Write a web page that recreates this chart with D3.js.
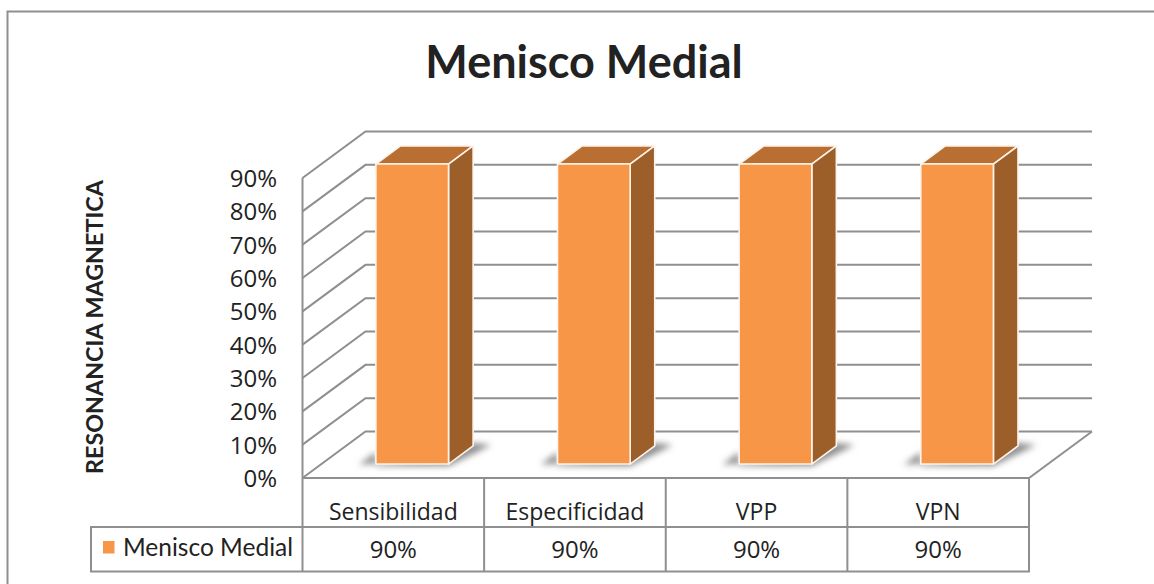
<!DOCTYPE html>
<html>
<head>
<meta charset="utf-8">
<title>Menisco Medial</title>
<script src="https://cdn.jsdelivr.net/npm/d3@7"></script>
<style>
  html, body { margin: 0; padding: 0; background: #fff; }
  svg { display: block; }
  text { fill: #222; }
</style>
</head>
<body>
<svg id="chart" width="1154" height="584"></svg>
<script>
const chartTitle = "Menisco Medial";
const axisTitle = "RESONANCIA MAGNETICA";
const seriesName = "Menisco Medial";
const categories = ["Sensibilidad", "Especificidad", "VPP", "VPN"];
const seriesValues = [0.9, 0.9, 0.9, 0.9];
const tickValues = [0, 0.1, 0.2, 0.3, 0.4, 0.5, 0.6, 0.7, 0.8, 0.9];

const LINE = "#8f8f8f";
const FACE = "#f79646", TOP = "#b96f32", SIDE = "#9c5f2a", EDGE = "#fdf3ea";
const svg = d3.select("#chart");

// Front plane of the 3D plot box and the oblique offset of its back plane
const plot = { left: 302.5, right: 1029, floor: 478, top: 178 };
const depth = { dx: 63, dy: -46.5 };

const x = d3.scaleBand().domain(categories).range([plot.left, plot.right]);
const y = d3.scaleLinear().domain([0, 0.9]).range([plot.floor, plot.top]);

// Oblique projection: z runs from 0 at the front plane to 1 at the back wall
const project = (px, py, z) => [px + depth.dx * z, py + depth.dy * z];
const poly = pts => pts.map(p => p.join(",")).join(" ");

const defs = svg.append("defs");
defs.append("filter").attr("id", "floorShadow")
  .attr("x", "-30%").attr("y", "-60%").attr("width", "160%").attr("height", "220%")
  .append("feGaussianBlur").attr("stdDeviation", 3);

// Outer chart frame, open on the right and at the bottom
svg.append("path")
  .attr("d", d3.line()([[7.5, 584], [7.5, 11.5], [1154, 11.5]]))
  .attr("fill", "none").attr("stroke", LINE).attr("stroke-width", 2);

// Title
svg.append("text").attr("x", 584).attr("y", 78)
  .attr("text-anchor", "middle")
  .style("font", "700 45px Lato, sans-serif")
  .text(chartTitle);

// Axis title
svg.append("text")
  .attr("transform", "translate(103,327) rotate(-90)")
  .attr("text-anchor", "middle")
  .style("font", "700 23.3px Lato, sans-serif")
  .text(axisTitle);

// Back-wall gridlines and the side-wall diagonals that lead into them
const grid = svg.append("g").attr("fill", "none").attr("stroke", LINE).attr("stroke-width", 2);
tickValues.forEach(v => {
  const front = project(plot.left, y(v), 0);
  const back = project(plot.left, y(v), 1);
  const end = project(plot.right, y(v), 1);
  grid.append("path").attr("d", d3.line()([front, back, end]));
});

// Floor edges and the front vertical of the side wall
grid.append("path").attr("d", d3.line()([
  project(plot.left, y(0), 0), project(plot.right, y(0), 0), project(plot.right, y(0), 1)
]));
grid.append("path").attr("d", d3.line()([[plot.left, y(0.9)], [plot.left, y(0)]]));

// Value axis
const yAxis = d3.axisLeft(y).tickValues(tickValues).tickSize(0).tickPadding(0)
  .tickFormat(d3.format(".0%"));
const yAxisG = svg.append("g").attr("transform", "translate(277,0)").call(yAxis);
yAxisG.select(".domain").remove();
yAxisG.selectAll("text").attr("dy", "0.36em")
  .style("font", "24px 'Open Sans', sans-serif");

// Bars: gap width 150% inside each band, set partway into the depth
const barWidth = x.bandwidth() / 2.5;
const zNear = 0.3, zFar = 0.69;
const bars = svg.append("g").selectAll("g")
  .data(categories.map((c, i) => ({ c, v: seriesValues[i] })))
  .join("g");

bars.each(function (d) {
  const g = d3.select(this);
  const x0 = x(d.c) + (x.bandwidth() - barWidth) / 2;
  const x1 = x0 + barWidth;
  const a = project(x0, y(d.v), zNear), b = project(x1, y(d.v), zNear);
  const c = project(x1, y(0), zNear), e = project(x0, y(0), zNear);
  const bBack = project(x1, y(d.v), zFar), aBack = project(x0, y(d.v), zFar);
  const cBack = project(x1, y(0), zFar);

  // Soft shadow falling on the floor
  g.append("polygon").attr("filter", "url(#floorShadow)").attr("fill", "#8c8c8c")
    .attr("points", poly([
      [e[0] - 17, e[1] + 1], [e[0], e[1] - 12], [e[0], e[1] + 2], [c[0], c[1] + 2],
      [cBack[0] + 18, cBack[1] - 1], [cBack[0], cBack[1] - 3], [c[0], c[1] - 8]
    ]));

  const faces = [
    { pts: [a, b, bBack, aBack], fill: TOP },
    { pts: [b, c, cBack, bBack], fill: SIDE },
    { pts: [a, b, c, e], fill: FACE }
  ];
  g.selectAll("polygon.face").data(faces).join("polygon")
    .attr("class", "face")
    .attr("points", f => poly(f.pts))
    .attr("fill", f => f.fill)
    .attr("stroke", EDGE).attr("stroke-width", 1.6).attr("stroke-linejoin", "round");
});

// Data table under the plot
const table = { legendLeft: 91, rowA: 527, rowB: 571.5 };
const tableLines = svg.append("g").attr("fill", "none").attr("stroke", LINE).attr("stroke-width", 2);
tableLines.append("rect")
  .attr("x", table.legendLeft).attr("y", table.rowA)
  .attr("width", plot.right - table.legendLeft).attr("height", table.rowB - table.rowA);
x.domain().concat([null]).forEach(c => {
  const px = c === null ? plot.right : x(c);
  tableLines.append("line").attr("x1", px).attr("x2", px)
    .attr("y1", plot.floor).attr("y2", table.rowB);
});

svg.append("g").selectAll("text").data(categories).join("text")
  .attr("x", d => x(d) + x.bandwidth() / 2).attr("y", 520)
  .attr("text-anchor", "middle").style("font", "23px 'Open Sans', sans-serif").text(d => d);
svg.append("g").selectAll("text").data(seriesValues).join("text")
  .attr("x", (d, i) => x(categories[i]) + x.bandwidth() / 2).attr("y", 558)
  .attr("text-anchor", "middle").style("font", "24px 'Open Sans', sans-serif").text(d3.format(".0%"));

// Legend key inside the table's first cell
svg.append("rect").attr("x", 103).attr("y", 541).attr("width", 11.5).attr("height", 12.5).attr("fill", FACE);
svg.append("text").attr("x", 123).attr("y", 555.5)
  .style("font", "24.5px Lato, sans-serif").text(seriesName);
</script>
</body>
</html>
